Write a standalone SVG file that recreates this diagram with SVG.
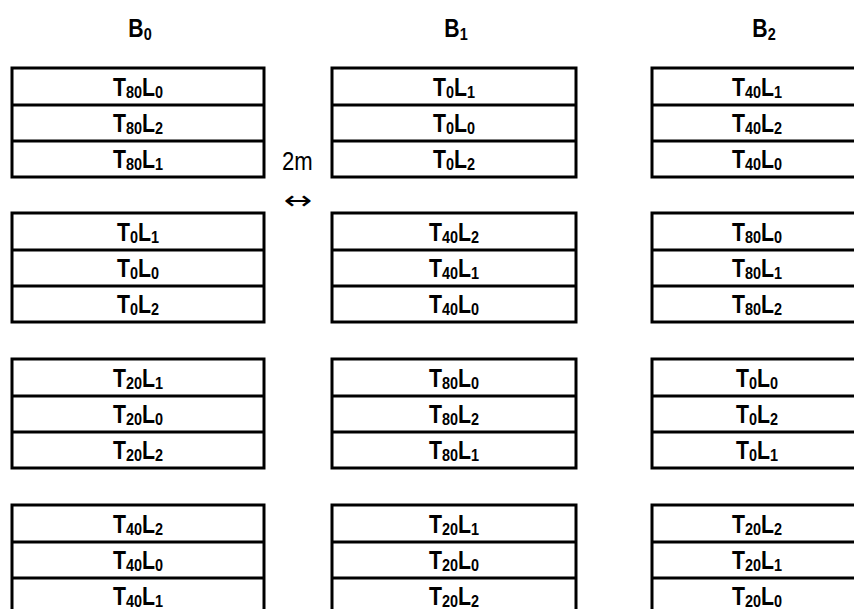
<svg xmlns="http://www.w3.org/2000/svg" width="854" height="609" viewBox="0 0 854 609">
<style>
.cell{fill:#fff;stroke:#000;stroke-width:3}
.div{stroke:#000;stroke-width:3}
.t{font-family:"Liberation Sans",Arial,sans-serif;font-weight:bold;font-size:25px;text-anchor:middle;fill:#000}
.s{font-size:17px}
.n{font-family:"Liberation Sans",Arial,sans-serif;font-size:26px;fill:#000}
.a{font-family:"DejaVu Sans","Liberation Sans",sans-serif;font-size:34px;text-anchor:middle;fill:#000}
</style>
<defs>
<g id="stackL"><rect class="cell" x="12" y="0" width="252" height="109"/><line class="div" x1="12" y1="37" x2="264" y2="37"/><line class="div" x1="12" y1="73" x2="264" y2="73"/></g>
<g id="stackM"><rect class="cell" x="332" y="0" width="244" height="109"/><line class="div" x1="332" y1="37" x2="576" y2="37"/><line class="div" x1="332" y1="73" x2="576" y2="73"/></g>
<g id="stackR"><rect class="cell" x="652" y="0" width="212" height="109"/><line class="div" x1="652" y1="37" x2="864" y2="37"/><line class="div" x1="652" y1="73" x2="864" y2="73"/></g>
</defs>

<g id="headers">
<text class="t" transform="translate(140,37) scale(0.85,1)">B<tspan class="s" dy="3">0</tspan></text>
<text class="t" transform="translate(456,37) scale(0.85,1)">B<tspan class="s" dy="3">1</tspan></text>
<text class="t" transform="translate(764,37) scale(0.85,1)">B<tspan class="s" dy="3">2</tspan></text>
</g>

<g id="connectors">
<text class="n" transform="translate(282,170) scale(0.85,1)">2m</text>
<text class="a" transform="translate(298,209) scale(1,0.75)">↔</text>
</g>

<g id="B0-g1" transform="translate(0,68)"><use href="#stackL"/>
<text class="t" transform="translate(138,28) scale(0.85,1)">T<tspan class="s" dy="2">80</tspan><tspan dy="-2">L</tspan><tspan class="s" dy="2">0</tspan></text>
<text class="t" transform="translate(138,64) scale(0.85,1)">T<tspan class="s" dy="2">80</tspan><tspan dy="-2">L</tspan><tspan class="s" dy="2">2</tspan></text>
<text class="t" transform="translate(138,100) scale(0.85,1)">T<tspan class="s" dy="2">80</tspan><tspan dy="-2">L</tspan><tspan class="s" dy="2">1</tspan></text>
</g>
<g id="B0-g2" transform="translate(0,213)"><use href="#stackL"/>
<text class="t" transform="translate(138,28) scale(0.85,1)">T<tspan class="s" dy="2">0</tspan><tspan dy="-2">L</tspan><tspan class="s" dy="2">1</tspan></text>
<text class="t" transform="translate(138,64) scale(0.85,1)">T<tspan class="s" dy="2">0</tspan><tspan dy="-2">L</tspan><tspan class="s" dy="2">0</tspan></text>
<text class="t" transform="translate(138,100) scale(0.85,1)">T<tspan class="s" dy="2">0</tspan><tspan dy="-2">L</tspan><tspan class="s" dy="2">2</tspan></text>
</g>
<g id="B0-g3" transform="translate(0,359)"><use href="#stackL"/>
<text class="t" transform="translate(138,28) scale(0.85,1)">T<tspan class="s" dy="2">20</tspan><tspan dy="-2">L</tspan><tspan class="s" dy="2">1</tspan></text>
<text class="t" transform="translate(138,64) scale(0.85,1)">T<tspan class="s" dy="2">20</tspan><tspan dy="-2">L</tspan><tspan class="s" dy="2">0</tspan></text>
<text class="t" transform="translate(138,100) scale(0.85,1)">T<tspan class="s" dy="2">20</tspan><tspan dy="-2">L</tspan><tspan class="s" dy="2">2</tspan></text>
</g>
<g id="B0-g4" transform="translate(0,505)"><use href="#stackL"/>
<text class="t" transform="translate(138,28) scale(0.85,1)">T<tspan class="s" dy="2">40</tspan><tspan dy="-2">L</tspan><tspan class="s" dy="2">2</tspan></text>
<text class="t" transform="translate(138,64) scale(0.85,1)">T<tspan class="s" dy="2">40</tspan><tspan dy="-2">L</tspan><tspan class="s" dy="2">0</tspan></text>
<text class="t" transform="translate(138,100) scale(0.85,1)">T<tspan class="s" dy="2">40</tspan><tspan dy="-2">L</tspan><tspan class="s" dy="2">1</tspan></text>
</g>

<g id="B1-g1" transform="translate(0,68)"><use href="#stackM"/>
<text class="t" transform="translate(454,28) scale(0.85,1)">T<tspan class="s" dy="2">0</tspan><tspan dy="-2">L</tspan><tspan class="s" dy="2">1</tspan></text>
<text class="t" transform="translate(454,64) scale(0.85,1)">T<tspan class="s" dy="2">0</tspan><tspan dy="-2">L</tspan><tspan class="s" dy="2">0</tspan></text>
<text class="t" transform="translate(454,100) scale(0.85,1)">T<tspan class="s" dy="2">0</tspan><tspan dy="-2">L</tspan><tspan class="s" dy="2">2</tspan></text>
</g>
<g id="B1-g2" transform="translate(0,213)"><use href="#stackM"/>
<text class="t" transform="translate(454,28) scale(0.85,1)">T<tspan class="s" dy="2">40</tspan><tspan dy="-2">L</tspan><tspan class="s" dy="2">2</tspan></text>
<text class="t" transform="translate(454,64) scale(0.85,1)">T<tspan class="s" dy="2">40</tspan><tspan dy="-2">L</tspan><tspan class="s" dy="2">1</tspan></text>
<text class="t" transform="translate(454,100) scale(0.85,1)">T<tspan class="s" dy="2">40</tspan><tspan dy="-2">L</tspan><tspan class="s" dy="2">0</tspan></text>
</g>
<g id="B1-g3" transform="translate(0,359)"><use href="#stackM"/>
<text class="t" transform="translate(454,28) scale(0.85,1)">T<tspan class="s" dy="2">80</tspan><tspan dy="-2">L</tspan><tspan class="s" dy="2">0</tspan></text>
<text class="t" transform="translate(454,64) scale(0.85,1)">T<tspan class="s" dy="2">80</tspan><tspan dy="-2">L</tspan><tspan class="s" dy="2">2</tspan></text>
<text class="t" transform="translate(454,100) scale(0.85,1)">T<tspan class="s" dy="2">80</tspan><tspan dy="-2">L</tspan><tspan class="s" dy="2">1</tspan></text>
</g>
<g id="B1-g4" transform="translate(0,505)"><use href="#stackM"/>
<text class="t" transform="translate(454,28) scale(0.85,1)">T<tspan class="s" dy="2">20</tspan><tspan dy="-2">L</tspan><tspan class="s" dy="2">1</tspan></text>
<text class="t" transform="translate(454,64) scale(0.85,1)">T<tspan class="s" dy="2">20</tspan><tspan dy="-2">L</tspan><tspan class="s" dy="2">0</tspan></text>
<text class="t" transform="translate(454,100) scale(0.85,1)">T<tspan class="s" dy="2">20</tspan><tspan dy="-2">L</tspan><tspan class="s" dy="2">2</tspan></text>
</g>

<g id="B2-g1" transform="translate(0,68)"><use href="#stackR"/>
<text class="t" transform="translate(757,28) scale(0.85,1)">T<tspan class="s" dy="2">40</tspan><tspan dy="-2">L</tspan><tspan class="s" dy="2">1</tspan></text>
<text class="t" transform="translate(757,64) scale(0.85,1)">T<tspan class="s" dy="2">40</tspan><tspan dy="-2">L</tspan><tspan class="s" dy="2">2</tspan></text>
<text class="t" transform="translate(757,100) scale(0.85,1)">T<tspan class="s" dy="2">40</tspan><tspan dy="-2">L</tspan><tspan class="s" dy="2">0</tspan></text>
</g>
<g id="B2-g2" transform="translate(0,213)"><use href="#stackR"/>
<text class="t" transform="translate(757,28) scale(0.85,1)">T<tspan class="s" dy="2">80</tspan><tspan dy="-2">L</tspan><tspan class="s" dy="2">0</tspan></text>
<text class="t" transform="translate(757,64) scale(0.85,1)">T<tspan class="s" dy="2">80</tspan><tspan dy="-2">L</tspan><tspan class="s" dy="2">1</tspan></text>
<text class="t" transform="translate(757,100) scale(0.85,1)">T<tspan class="s" dy="2">80</tspan><tspan dy="-2">L</tspan><tspan class="s" dy="2">2</tspan></text>
</g>
<g id="B2-g3" transform="translate(0,359)"><use href="#stackR"/>
<text class="t" transform="translate(757,28) scale(0.85,1)">T<tspan class="s" dy="2">0</tspan><tspan dy="-2">L</tspan><tspan class="s" dy="2">0</tspan></text>
<text class="t" transform="translate(757,64) scale(0.85,1)">T<tspan class="s" dy="2">0</tspan><tspan dy="-2">L</tspan><tspan class="s" dy="2">2</tspan></text>
<text class="t" transform="translate(757,100) scale(0.85,1)">T<tspan class="s" dy="2">0</tspan><tspan dy="-2">L</tspan><tspan class="s" dy="2">1</tspan></text>
</g>
<g id="B2-g4" transform="translate(0,505)"><use href="#stackR"/>
<text class="t" transform="translate(757,28) scale(0.85,1)">T<tspan class="s" dy="2">20</tspan><tspan dy="-2">L</tspan><tspan class="s" dy="2">2</tspan></text>
<text class="t" transform="translate(757,64) scale(0.85,1)">T<tspan class="s" dy="2">20</tspan><tspan dy="-2">L</tspan><tspan class="s" dy="2">1</tspan></text>
<text class="t" transform="translate(757,100) scale(0.85,1)">T<tspan class="s" dy="2">20</tspan><tspan dy="-2">L</tspan><tspan class="s" dy="2">0</tspan></text>
</g>
</svg>
